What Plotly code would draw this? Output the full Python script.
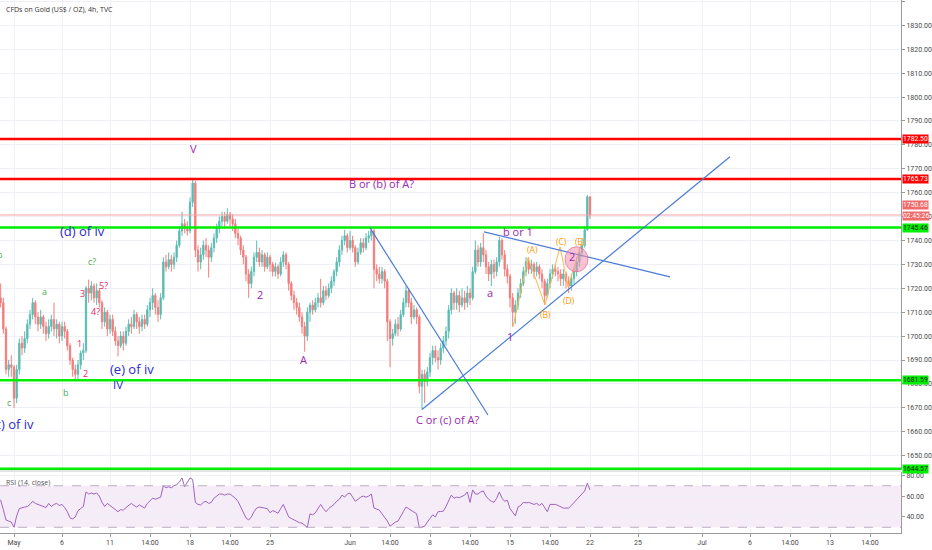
import pandas as pd
import plotly.graph_objects as go

# CFDs on Gold, 4h bars from 30 Apr to 22 Jun 2020.
# Six bars per trading day; each bar opens at the previous bar's close.
first_open = 1718.0

bar_close = [
    1716, 1714, 1703, 1686, 1688, 1687,        # Apr 30
    1674, 1686, 1697, 1695, 1699, 1705,        # May 1
    1709, 1714, 1708, 1705, 1708, 1704,        # May 4
    1701, 1704, 1707, 1703, 1705, 1700,        # May 5
    1704, 1702, 1696, 1690, 1686, 1684,        # May 6
    1688, 1693, 1694, 1720, 1718, 1721,        # May 7
    1716, 1719, 1714, 1706, 1710, 1703,        # May 8
    1707, 1702, 1698, 1696, 1700, 1697,        # May 11
    1702, 1705, 1704, 1709, 1706, 1704,        # May 12
    1707, 1705, 1711, 1714, 1717, 1712,        # May 13
    1709, 1716, 1731, 1729, 1732, 1730,        # May 14
    1733, 1738, 1744, 1747, 1745, 1744,        # May 15
    1756, 1764, 1736, 1731, 1734, 1738,        # May 18
    1736, 1733, 1737, 1741, 1745, 1748,        # May 19
    1750, 1748, 1751, 1749, 1747, 1743,        # May 20
    1741, 1736, 1733, 1726, 1722, 1727,        # May 21
    1733, 1735, 1731, 1734, 1729, 1733,        # May 22
    1730, 1727, 1729, 1726, 1731, 1734,        # May 25
    1730, 1722, 1717, 1714, 1712, 1708,        # May 26
    1704, 1700, 1710, 1713, 1711, 1714,        # May 27
    1716, 1714, 1719, 1717, 1720, 1723,        # May 28
    1727, 1731, 1736, 1740, 1742, 1737,        # May 29
    1740, 1737, 1731, 1735, 1739, 1737,        # Jun 1
    1741, 1742, 1744, 1728, 1726, 1724,        # Jun 2
    1727, 1723, 1706, 1699, 1701, 1705,        # Jun 3
    1703, 1709, 1714, 1719, 1714, 1708,        # Jun 4
    1711, 1708, 1679, 1684, 1681, 1685,        # Jun 5
    1691, 1694, 1691, 1690, 1695, 1698,        # Jun 8
    1702, 1711, 1718, 1714, 1717, 1713,        # Jun 9
    1716, 1714, 1718, 1716, 1727, 1736,        # Jun 10
    1731, 1737, 1734, 1729, 1726, 1730,        # Jun 11
    1727, 1731, 1740, 1734, 1728, 1725,        # Jun 12
    1716, 1710, 1713, 1718, 1722, 1727,        # Jun 15
    1731, 1728, 1730, 1727, 1729, 1726,        # Jun 16
    1723, 1717, 1722, 1726, 1728, 1727,        # Jun 17
    1726, 1724, 1726, 1723, 1721, 1724,        # Jun 18
    1727, 1731, 1735, 1738, 1744.5, 1758.3,    # Jun 19
    1750.68,                                   # Jun 22
]

bar_high = [
    1722, 1722, 1716, 1704, 1690, 1692,
    1688, 1688, 1699, 1700, 1702, 1707,
    1711, 1716, 1715, 1710, 1711, 1709,
    1706, 1707, 1709, 1714, 1707, 1706,
    1706, 1706, 1703, 1697, 1691, 1688,
    1690, 1694, 1697, 1721, 1723.6, 1723,
    1722, 1722, 1720, 1715, 1712, 1711,
    1709, 1709, 1704, 1700, 1702, 1702,
    1704, 1707, 1708, 1711, 1710, 1708,
    1709, 1709, 1713, 1716, 1720, 1718,
    1715, 1718, 1733, 1734, 1735, 1734,
    1735, 1740, 1746, 1752, 1749, 1748,
    1758, 1765.5, 1765, 1738, 1737, 1740,
    1741, 1738, 1739, 1743, 1747, 1750,
    1752, 1752, 1753.5, 1752, 1751, 1749,
    1745, 1742, 1738, 1734, 1728, 1729,
    1735, 1740, 1737, 1736, 1735, 1735,
    1734, 1731, 1730.7, 1730, 1733, 1735.5,
    1735, 1731, 1723, 1719, 1716, 1714,
    1710, 1706, 1712, 1714, 1715, 1716,
    1718, 1724, 1721, 1721, 1722, 1725,
    1728, 1733, 1738, 1742, 1744.5, 1743,
    1744, 1742, 1738, 1737, 1741, 1741,
    1743, 1744, 1745.3, 1745, 1730, 1729,
    1729, 1728, 1724, 1707, 1703, 1707,
    1708, 1711, 1716, 1721, 1720, 1716,
    1713, 1712, 1709, 1686, 1686, 1687,
    1693, 1696, 1696, 1694, 1697, 1700,
    1704, 1713, 1720, 1719, 1720, 1719,
    1720, 1719, 1721, 1720, 1729, 1740,
    1738, 1739, 1743, 1736, 1731, 1732,
    1732, 1733, 1741.5, 1741, 1736, 1730,
    1726, 1718, 1715, 1720, 1724, 1729,
    1733, 1733, 1732, 1731, 1731, 1730,
    1728, 1724, 1724, 1728, 1730, 1730,
    1729, 1728, 1728, 1727, 1725, 1726,
    1729, 1733, 1737, 1741, 1746, 1759,
    1758.5,
]

bar_low = [
    1712, 1712, 1701, 1684, 1683, 1683,
    1670, 1672, 1684, 1692, 1693, 1697,
    1703, 1707, 1705, 1702, 1703, 1701,
    1698, 1699, 1702, 1700, 1699, 1697,
    1698, 1699, 1694, 1688, 1683, 1682,
    1682, 1686, 1690, 1693, 1714, 1715,
    1714, 1713, 1712, 1703, 1704, 1700,
    1701, 1700, 1696, 1691.5, 1695, 1694,
    1696, 1700, 1701, 1703, 1703, 1701,
    1702, 1703, 1704, 1708, 1711, 1709,
    1706, 1707, 1715, 1727, 1728, 1727,
    1728, 1731, 1737, 1742, 1743, 1742,
    1743, 1754, 1733, 1727, 1728, 1732,
    1733, 1724.5, 1731, 1735, 1739, 1743,
    1746, 1745, 1747, 1746, 1744, 1741,
    1738, 1734, 1730, 1723, 1716, 1720,
    1725, 1731, 1729, 1729, 1727, 1728,
    1727, 1725, 1725, 1724, 1725, 1729,
    1728, 1719, 1715, 1711, 1709, 1706,
    1701, 1693.5, 1698, 1706, 1709, 1710,
    1712, 1712, 1713, 1715, 1716, 1718,
    1721, 1725, 1729, 1734, 1738, 1735,
    1736, 1735, 1729, 1730, 1734, 1735,
    1736, 1739, 1740, 1720, 1723, 1722,
    1722, 1720, 1698, 1687, 1696, 1700,
    1700, 1702, 1708, 1712, 1712, 1705,
    1707, 1705, 1676, 1669.3, 1672, 1679,
    1683, 1688, 1689, 1686, 1688, 1693,
    1696, 1699, 1709, 1711, 1711, 1710,
    1712, 1711, 1712, 1713, 1715, 1726,
    1729, 1729, 1731, 1726, 1723, 1721,
    1724, 1725, 1729, 1732, 1725, 1722,
    1712, 1704, 1705, 1711, 1716, 1721,
    1725, 1726, 1726, 1724, 1725, 1724,
    1720, 1713, 1716, 1720, 1724, 1725,
    1723, 1721, 1721, 1720, 1718, 1719,
    1722, 1725, 1729, 1733, 1737, 1744,
    1749,
]

# RSI (14, close) as drawn in the lower pane, one value per bar
rsi_14 = [
    58, 56, 47, 37, 36, 35,
    30, 41, 48, 49, 49.5, 50,
    52, 55, 53, 52, 51, 49.5,
    49, 53, 50, 52, 53, 51,
    52, 49, 45, 39, 38, 40,
    46, 48, 50, 64, 62, 63,
    62, 63, 60, 54, 50, 53,
    51, 49, 47, 45, 47, 46.5,
    49, 51, 53, 51, 49.5, 51.5,
    50, 48.5, 53, 56, 58, 57,
    58, 59, 70, 68, 69, 68,
    70, 71, 73.5, 77.5, 69, 74,
    77.5, 76, 54, 52, 51.5, 54,
    55, 53, 54, 58, 60, 62,
    62, 61, 62, 62, 60, 58,
    55, 50, 45, 39, 37, 40,
    45, 48.5, 49.5, 49, 48.5, 48,
    44, 46, 45, 43.5, 48, 52,
    46, 40, 38.5, 37, 36, 34.5,
    34, 32, 30, 43, 42, 44,
    48, 52, 48, 45, 48, 50,
    52, 55, 57, 61, 59, 62,
    63, 59, 55, 57, 59, 60,
    59, 60, 62, 48.5, 47.5, 46.5,
    43, 40, 36, 31, 33, 35,
    36, 40, 45, 49.5, 48, 46.5,
    45, 43, 29.5, 30, 31, 35,
    39, 42, 40, 45, 45.2, 45.5,
    50, 55, 61, 58, 59, 58.5,
    60, 61, 64, 54, 66, 62,
    62, 64, 65, 60, 57, 55,
    54, 58, 64, 58, 55, 56,
    48, 44, 41, 49.5, 51, 54,
    53.5, 54, 53, 52, 53, 51,
    53, 49, 45, 52, 52, 52,
    51, 50, 48.5, 48.5, 48.5, 51,
    54, 57, 60, 62, 65, 72.5,
    66,
]

# horizontal levels drawn on the chart
red_levels = [1782.50, 1765.73]
green_levels = [1745.46, 1681.59, 1644.57]
last_price = 1750.68

# trend lines: (time, price) -> (time, price)
trend_lines = [
    (("2020-06-02 06:00", 1745.3), ("2020-06-11 15:00", 1667.0)),
    (("2020-06-05 12:00", 1669.3), ("2020-07-02 18:00", 1775.0)),
    (("2020-06-11 09:00", 1743.6), ("2020-06-29 00:00", 1724.8)),
]

# orange (A)-(E) zigzag
abcde_time = ["2020-06-15 04:30", "2020-06-16 03:00", "2020-06-17 04:30",
              "2020-06-18 03:00", "2020-06-18 15:00", "2020-06-19 12:00"]
abcde_price = [1703.9, 1732.8, 1713.1, 1737.4, 1720.7, 1739.5]

# time axis labels
tick_time = ["2020-05-01", "2020-05-06", "2020-05-11", "2020-05-13 12:00", "2020-05-18",
             "2020-05-20 12:00", "2020-05-25", "2020-06-01", "2020-06-03 12:00", "2020-06-08",
             "2020-06-10 12:00", "2020-06-15", "2020-06-17 12:00", "2020-06-22", "2020-06-25",
             "2020-07-01", "2020-07-06", "2020-07-08 12:00", "2020-07-13", "2020-07-15 12:00"]
tick_text = ["May", "6", "11", "14:00", "18", "14:00", "25", "Jun", "14:00", "8",
             "14:00", "15", "14:00", "22", "25", "Jul", "6", "14:00", "13", "14:00"]

BLUE = "#2b2bcf"
PURPLE = "#9c27b0"
GREEN = "#4caf50"
PINK = "#e91e63"
ORANGE = "#ff9800"

# Elliott wave labels: text, time, price, colour, size, anchor
wave_labels = [
    ("(d) of iv", "2020-05-07 06:00", 1744.0, BLUE, 13, "center"),
    ("(e) of iv", "2020-05-12 09:00", 1686.3, BLUE, 13, "center"),
    ("IV", "2020-05-11 12:00", 1679.8, BLUE, 11.5, "center"),
    ("(c) of iv", "2020-05-04 09:00", 1663.4, BLUE, 13, "right"),
    ("V", "2020-05-18 04:30", 1778.3, PURPLE, 11, "center"),
    ("B or (b) of A?", "2020-06-02 22:30", 1763.7, PURPLE, 11, "center"),
    ("2", "2020-05-22 09:00", 1717.3, PURPLE, 11, "center"),
    ("A", "2020-05-27 01:30", 1690.1, PURPLE, 11, "center"),
    ("C or (c) of A?", "2020-06-09 03:00", 1665.1, PURPLE, 11, "center"),
    ("a", "2020-06-11 18:00", 1718.1, PURPLE, 11, "center"),
    ("b or 1", "2020-06-15 12:00", 1743.6, PURPLE, 11, "center"),
    ("1", "2020-06-15 00:00", 1699.8, PURPLE, 11, "center"),
    ("2", "2020-06-18 21:00", 1733.2, PURPLE, 11, "center"),
    ("a", "2020-05-04 21:00", 1718.6, GREEN, 9, "center"),
    ("b", "2020-05-06 06:00", 1676.4, GREEN, 9, "center"),
    ("c", "2020-04-30 16:30", 1672.2, GREEN, 9, "center"),
    ("c?", "2020-05-07 21:00", 1731.1, GREEN, 9, "center"),
    ("b", "2020-04-30 03:00", 1734.0, GREEN, 9, "center"),
    ("3", "2020-05-07 06:00", 1717.7, PINK, 9, "center"),
    ("5?", "2020-05-08 13:30", 1721.1, PINK, 9, "center"),
    ("4?", "2020-05-08 01:30", 1710.2, PINK, 9, "center"),
    ("1", "2020-05-07 01:30", 1696.8, PINK, 9, "center"),
    ("2", "2020-05-07 10:30", 1684.3, PINK, 9, "center"),
    ("(A)", "2020-06-16 09:00", 1736.1, ORANGE, 8.5, "center"),
    ("(B)", "2020-06-17 04:30", 1709.0, ORANGE, 8.5, "center"),
    ("(C)", "2020-06-18 04:30", 1739.5, ORANGE, 8.5, "center"),
    ("(D)", "2020-06-18 16:30", 1714.8, ORANGE, 8.5, "center"),
    ("(E)", "2020-06-19 09:00", 1739.5, ORANGE, 8.5, "center"),
]

trading_days = pd.bdate_range("2020-04-30", "2020-06-22")
bar_time = [d + pd.Timedelta(hours=4 * k) for d in trading_days for k in range(6)][:len(bar_close)]
bar_open = [first_open] + bar_close[:-1]

X_RANGE = ["2020-04-30 03:00", "2020-07-17 10:30"]
GRID = "#eef0f5"
AXIS = "#9a9a9a"
TXT = "#4a4a4a"
breaks = [dict(bounds=["sat", "mon"])]

fig = go.Figure()

fig.add_trace(go.Candlestick(
    x=bar_time, open=bar_open, high=bar_high, low=bar_low, close=bar_close,
    increasing=dict(line=dict(color="#26a69a", width=1), fillcolor="#26a69a"),
    decreasing=dict(line=dict(color="#ef5350", width=1), fillcolor="#ef5350"),
    opacity=0.75, whiskerwidth=0, hoverinfo="skip", xaxis="x", yaxis="y",
))

fig.add_trace(go.Scatter(
    x=abcde_time, y=abcde_price, mode="lines",
    line=dict(color="#ffb74d", width=1), hoverinfo="skip", xaxis="x", yaxis="y",
))

fig.add_trace(go.Scatter(
    x=bar_time, y=rsi_14, mode="lines",
    line=dict(color="#a064c0", width=1), hoverinfo="skip", xaxis="x2", yaxis="y2",
))

shapes = []
# RSI band
shapes.append(dict(type="rect", xref="x2 domain", yref="y2", x0=0, x1=1, y0=30, y1=70,
                   fillcolor="rgba(156,39,176,0.09)", line=dict(width=0), layer="below"))
for lvl in (30, 70):
    shapes.append(dict(type="line", xref="x2 domain", yref="y2", x0=0, x1=1, y0=lvl, y1=lvl,
                       line=dict(color="#b9aec4", width=1, dash="dash")))
# pane separator
shapes.append(dict(type="line", xref="paper", yref="paper", x0=0, x1=1, y0=0.1163, y1=0.1163,
                   line=dict(color="#c8c8c8", width=1)))
# last price line
shapes.append(dict(type="line", xref="x domain", yref="y", x0=0, x1=1, y0=last_price, y1=last_price,
                   line=dict(color="#f5a5a5", width=1)))
for lvl in red_levels:
    shapes.append(dict(type="line", xref="x domain", yref="y", x0=0, x1=1, y0=lvl, y1=lvl,
                       line=dict(color="#ff0000", width=2.5)))
for lvl in green_levels:
    shapes.append(dict(type="line", xref="x domain", yref="y", x0=0, x1=1, y0=lvl, y1=lvl,
                       line=dict(color="#00ee00", width=2.5)))
for (t0, p0), (t1, p1) in trend_lines:
    shapes.append(dict(type="line", xref="x", yref="y", x0=t0, y0=p0, x1=t1, y1=p1,
                       line=dict(color="#4a7bd4", width=1.2)))
# highlighted wave 2
shapes.append(dict(type="circle", xref="x", yref="y",
                   x0="2020-06-18 10:30", x1="2020-06-19 21:00", y0=1726.9, y1=1737.4,
                   fillcolor="rgba(244,143,177,0.55)", line=dict(color="rgba(229,90,130,0.6)", width=1)))

annotations = []
for text, t, p, color, size, anchor in wave_labels:
    annotations.append(dict(x=t, y=p, xref="x", yref="y", text=text, showarrow=False,
                            xanchor=anchor, yanchor="middle",
                            font=dict(family="Open Sans, sans-serif", size=size, color=color)))

# price scale markers
price_tags = [
    ("1782.50", 1782.50, "#ff0000", "white"),
    ("1765.73", 1765.73, "#ff0000", "white"),
    ("1750.68", 1754.8, "#f06a6a", "white"),
    ("02:45:26", 1750.1, "#f06a6a", "white"),
    ("1745.46", 1745.2, "#00ee00", "#1a1a1a"),
    ("1681.59", 1681.59, "#00ee00", "#1a1a1a"),
    ("1644.57", 1644.57, "#00ee00", "#1a1a1a"),
]
for text, p, bg, fg in price_tags:
    annotations.append(dict(x=1, y=p, xref="paper", yref="y", text=text, showarrow=False,
                            xanchor="left", yanchor="middle", xshift=1, bgcolor=bg, borderpad=0,
                            font=dict(family="Roboto, sans-serif", size=6.8, color=fg)))

annotations.append(dict(x=0.004, y=1, xref="paper", yref="paper", yshift=-3, xanchor="left",
                        yanchor="top", showarrow=False, text="CFDs on Gold (US$ / OZ), 4h, TVC",
                        font=dict(family="Open Sans, sans-serif", size=7, color="#333333")))
annotations.append(dict(x=0.004, y=1, xref="paper", yref="y2 domain", yshift=-4, xanchor="left",
                        yanchor="top", showarrow=False, text="RSI (14, close)",
                        font=dict(family="Open Sans, sans-serif", size=7, color="#555555")))

fig.update_layout(
    width=932, height=550,
    margin=dict(l=0, r=31, t=0, b=17),
    paper_bgcolor="white", plot_bgcolor="white",
    showlegend=False,
    font=dict(family="Roboto, sans-serif", size=7, color=TXT),
    shapes=shapes, annotations=annotations,
    xaxis=dict(domain=[0, 1], anchor="y", range=X_RANGE, rangebreaks=breaks,
               tickvals=tick_time, showticklabels=False, showgrid=True, gridcolor=GRID,
               zeroline=False, rangeslider=dict(visible=False)),
    xaxis2=dict(domain=[0, 1], anchor="y2", matches="x", range=X_RANGE, rangebreaks=breaks,
                tickvals=tick_time, ticktext=tick_text, showgrid=True, gridcolor=GRID,
                zeroline=False, showline=True, linecolor=AXIS, ticks="outside", ticklen=3,
                tickcolor=AXIS, tickfont=dict(size=7, color=TXT)),
    yaxis=dict(domain=[0.1182, 1], anchor="x", side="right", range=[1644.0, 1840.6],
               dtick=10, tick0=1640, tickformat=".2f", showgrid=True, gridcolor=GRID,
               zeroline=False, showline=True, linecolor=AXIS, ticks="outside", ticklen=3,
               tickcolor=AXIS, tickfont=dict(size=7, color=TXT)),
    yaxis2=dict(domain=[0, 0.1144], anchor="x2", side="right", range=[24.5, 83.2],
                tickvals=[40, 60, 80], tickformat=".2f", showgrid=True, gridcolor=GRID,
                zeroline=False, showline=True, linecolor=AXIS, ticks="outside", ticklen=3,
                tickcolor=AXIS, tickfont=dict(size=7, color=TXT)),
)

# page has a default body margin; drop it so the chart sits at the window corner
fig.write_html("out.html", config={"displayModeBar": False},
               post_script="document.body.style.margin='0';")
